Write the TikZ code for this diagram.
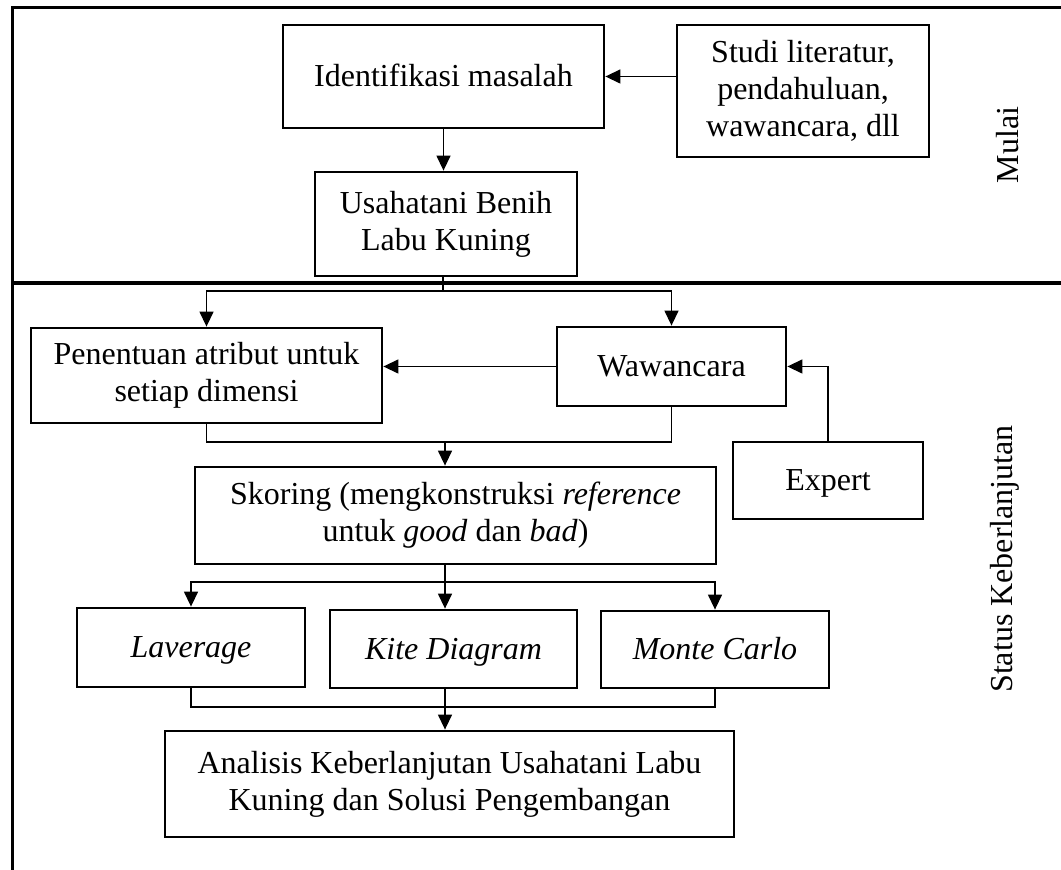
\documentclass[tikz,border=0pt]{standalone}
\usepackage{fontspec}
\setmainfont{Liberation Serif}
\usepackage{tikz}
\usetikzlibrary{calc}
\usetikzlibrary{positioning}
\usetikzlibrary{arrows.meta}

\tikzset{
    kotak/.style={draw=black, line width=1.4pt, align=center, inner sep=0pt},
    satubaris/.style={text height=13pt, text depth=2.5pt},
    garis/.style={line width=0.7pt},
    panah/.style={garis, -{Triangle[length=7.5pt,width=7pt]}},
}

\begin{document}
\begin{tikzpicture}[x=0.5pt, y=-0.5pt, font=\fontsize{16}{18.5}\selectfont]
            \useasboundingbox (0,0) rectangle (1061,870);

            % bingkai dan pembatas
            \draw [line width=1.5pt] (12,880) -- (12,8) -- (1075,8);
            \draw [line width=2pt] (12,283) -- (1075,283);
            \node [rotate=90] (mulai) at (1008,145) {Mulai};
            \node [rotate=90] (status) at (1005,559) {Status Keberlanjutan};

            \node [kotak, satubaris, minimum width=160.5pt, minimum height=51.5pt] (identifikasi) at (443.5,76.5) {Identifikasi masalah};
            \node [kotak, minimum width=126pt, minimum height=66pt] (studi) at (803,91) {Studi literatur,\\pendahuluan,\\wawancara, dll};
            \node [kotak, minimum width=131pt, minimum height=52pt] (usahatani) at (446,224) {Usahatani Benih\\Labu Kuning};
            \node [kotak, minimum width=175.5pt, minimum height=47.5pt] (penentuan) at (206.5,375.5) {Penentuan atribut untuk\\setiap dimensi};
            \node [kotak, satubaris, minimum width=114.5pt, minimum height=39.5pt] (wawancara) at (671.5,366.5) {Wawancara};
            \node [kotak, satubaris, minimum width=95pt, minimum height=38.5pt] (expert) at (828,480.5) {Expert};
            \node [kotak, minimum width=260.5pt, minimum height=48.5pt] (skoring) at (455.5,515.5) {Skoring (mengkonstruksi \textit{reference}\\untuk \textit{good} dan \textit{bad})};
            \node [kotak, satubaris, minimum width=114pt, minimum height=39.5pt] (laverage) at (191,647.5) {\textit{Laverage}};
            \node [kotak, satubaris, minimum width=123.5pt, minimum height=39pt] (kite) at (453.5,649) {\textit{Kite Diagram}};
            \node [kotak, satubaris, minimum width=114pt, minimum height=38.5pt] (monte) at (715,649.5) {\textit{Monte Carlo}};
            \node [kotak, minimum width=284.5pt, minimum height=53pt] (analisis) at (449.5,784) {Analisis Keberlanjutan Usahatani Labu\\Kuning dan Solusi Pengembangan};

            \coordinate (cabang1) at (443,291);
            \coordinate (gabung1) at (445,442);
            \coordinate (cabang2) at (445,582);
            \coordinate (gabung2) at (445,707);

            \draw [panah] (studi.west |- identifikasi.east) -- (identifikasi.east);
            \draw [panah] (identifikasi.south) -- (identifikasi.south |- usahatani.north);
            \draw [garis] (cabang1 |- usahatani.south) -- (cabang1);
            \draw [panah] (cabang1) -| (penentuan.north);
            \draw [panah] (cabang1) -| (wawancara.north);
            \draw [panah] (wawancara.west) -- (wawancara.west -| penentuan.east);
            \draw [panah] (expert.north) |- (wawancara.east);
            \draw [garis] (penentuan.south) |- (gabung1) -| (wawancara.south);
            \draw [panah] (gabung1) -- (gabung1 |- skoring.north);
            \draw [garis] (cabang2 |- skoring.south) -- (cabang2);
            \draw [panah] (cabang2) -| (laverage.north);
            \draw [panah] (cabang2) -- (cabang2 |- kite.north);
            \draw [panah] (cabang2) -| (monte.north);
            \draw [garis] (laverage.south) |- (gabung2) -| (monte.south);
            \draw [garis] (gabung2 |- kite.south) -- (gabung2);
            \draw [panah] (gabung2) -- (gabung2 |- analisis.north);
\end{tikzpicture}
\end{document}
